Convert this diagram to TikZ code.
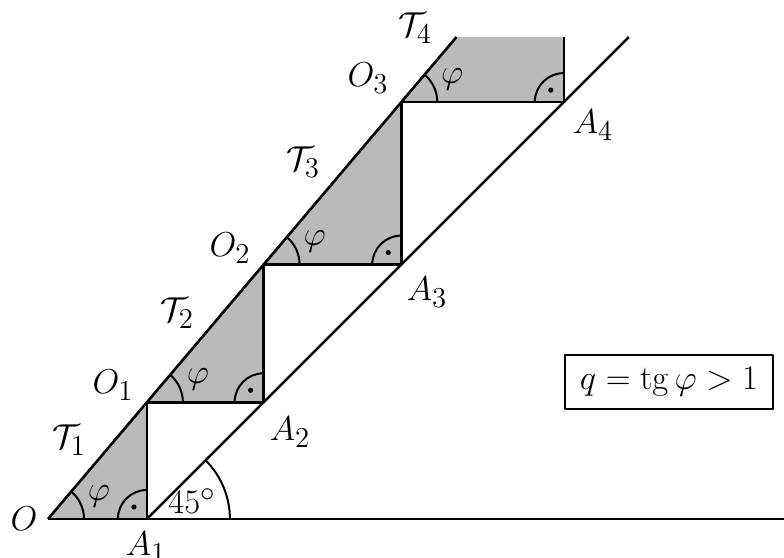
\documentclass[tikz,border=0pt]{standalone}
\usepackage{amsmath,amssymb}
\usetikzlibrary{calc}

\begin{document}
\begin{tikzpicture}[x=0.5pt, y=0.5pt, line join=round]
\tikzstyle{every node}=[font=\fontsize{19}{23}\selectfont]
\tikzstyle{edge}=[line width=1.3pt]
\tikzstyle{tri}=[fill=black!27]
\tikzstyle{anglearc}=[line width=1pt]

\useasboundingbox (0,0) rectangle (784,558);

% q = 1.18, geometric legs
\coordinate (O)  at (48,39);
\coordinate (A1) at (146.9,39);
\coordinate (O1) at (146.9,155.7);
\coordinate (A2) at (263.6,155.7);
\coordinate (O2) at (263.6,293.4);
\coordinate (A3) at (401.3,293.4);
\coordinate (O3) at (401.3,455.9);
\coordinate (A4) at (563.8,455.9);
\coordinate (T)  at (456.5,521);
\coordinate (R)  at (563.8,521);
\coordinate (E)  at (784,39);
\coordinate (F)  at (628.9,521);

% shaded triangles
\fill[tri] (O) -- (A1) -- (O1) -- cycle;
\fill[tri] (O1) -- (A2) -- (O2) -- cycle;
\fill[tri] (O2) -- (A3) -- (O3) -- cycle;
\fill[tri] (O3) -- (A4) -- (R) -- (T) -- cycle;

\draw[edge] (O) -- (E);
\draw[edge] (A1) -- (F);
\draw[edge] (O) -- (O1) -- (O2) -- (O3) -- (T);
\draw[edge] (A1) -- (O1) -- (A2) -- (O2) -- (A3) -- (O3) -- (A4) -- (R);

% angles
\foreach \p in {O,O1,O2,O3} {
  \draw[anglearc] ($(\p)+(36,0)$) arc[start angle=0, end angle=49.7, radius=36];
  \node at ($(\p)+(51,23)$) {$\varphi$};
}
\foreach \a in {A1,A2,A3,A4} {
  \draw[anglearc] ($(\a)+(0,29)$) arc[start angle=90, end angle=180, radius=29];
  \fill ($(\a)+(-13,12)$) circle (2.6);
}
\draw[anglearc] ($(A1)+(83,0)$) arc[start angle=0, end angle=45, radius=83];
\node (deg) at (192,57) {$45^\circ$};

% labels
\node (lO)  at (24,39)   {$O$};
\node (lA1) at (146,11)  {$A_1$};
\node (lA2) at (290,126) {$A_2$};
\node (lA3) at (427,266) {$A_3$};
\node (lA4) at (593,433) {$A_4$};
\node (lO1) at (113,173) {$O_1$};
\node (lO2) at (230,310) {$O_2$};
\node (lO3) at (368,480) {$O_3$};
\node (lT1) at (69,118)  {$\mathcal{T}_1$};
\node (lT2) at (177,245) {$\mathcal{T}_2$};
\node (lT3) at (303,396) {$\mathcal{T}_3$};
\node (lT4) at (415,530) {$\mathcal{T}_4$};

\node[draw, line width=0.9pt, minimum width=104pt, minimum height=27pt, inner sep=0pt] (box) at (669,176) {$q=\mathrm{tg}\,\varphi>1$};
\end{tikzpicture}
\end{document}
